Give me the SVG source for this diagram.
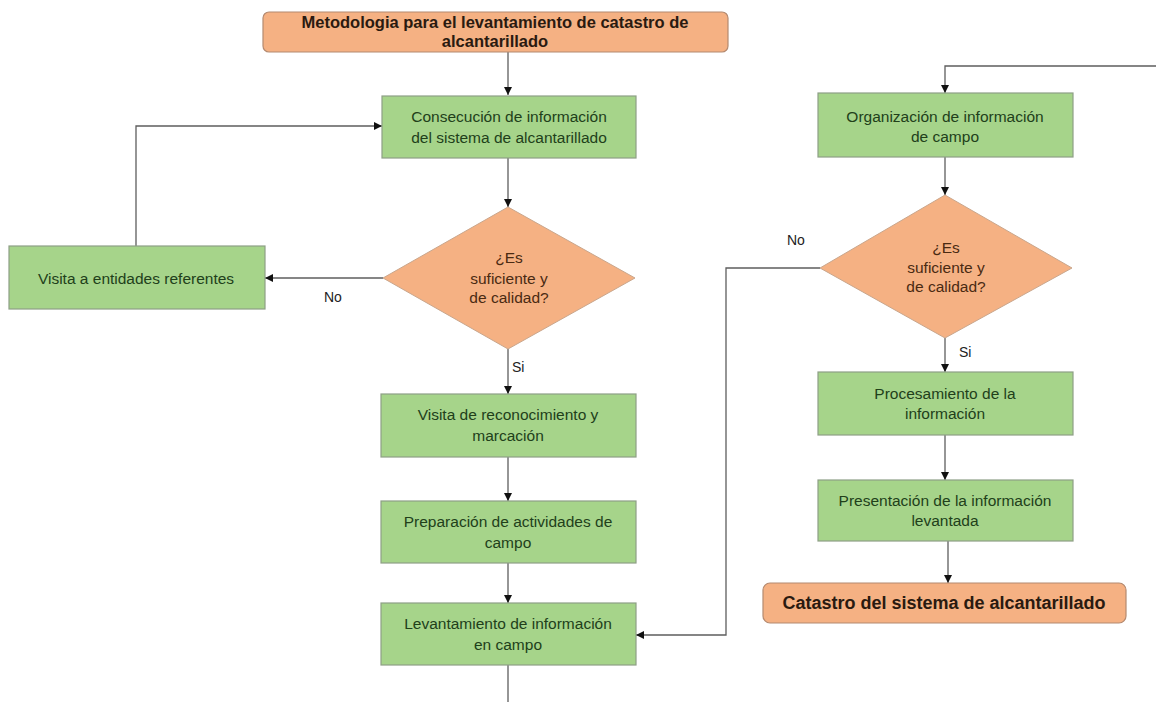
<svg xmlns="http://www.w3.org/2000/svg" width="1156" height="702" viewBox="0 0 1156 702">
<defs>
<marker id="ah" viewBox="0 0 10 10" refX="10" refY="5" markerWidth="8" markerHeight="8" markerUnits="userSpaceOnUse" orient="auto">
<path d="M0,0 L10,5 L0,10 z" fill="#111"/>
</marker>
<style>
.proc{fill:#a6d48a;stroke:#8e9f86;stroke-width:1.2}
.term{fill:#f5b183;stroke:#b48a70;stroke-width:1.2}
.dec{fill:#f5b183;stroke:#c9a68c;stroke-width:1}
.pt{font-family:"Liberation Sans",Arial,sans-serif;font-size:15.5px;fill:#21401a;text-anchor:middle}
.dt{font-family:"Liberation Sans",Arial,sans-serif;font-size:15.5px;fill:#4a2a12;text-anchor:middle}
.tt{font-family:"Liberation Sans",Arial,sans-serif;font-weight:bold;fill:#2a1a10;text-anchor:middle}
.lbl{font-family:"Liberation Sans",Arial,sans-serif;font-size:14px;fill:#222}
.c{fill:none;stroke:#5e5e5e;stroke-width:1.3}
</style>
</defs>
<rect width="1156" height="702" fill="#ffffff"/>

<g id="connectors">
<path class="c" d="M508,52 L508,95" marker-end="url(#ah)"/>
<path class="c" d="M508,158 L508,207" marker-end="url(#ah)"/>
<path class="c" d="M383,278 L265,278" marker-end="url(#ah)"/>
<path class="c" d="M136,246 L136,126 L382,126" marker-end="url(#ah)"/>
<path class="c" d="M508,349 L508,394" marker-end="url(#ah)"/>
<path class="c" d="M508,457 L508,501" marker-end="url(#ah)"/>
<path class="c" d="M508,563 L508,603" marker-end="url(#ah)"/>
<path class="c" d="M508,665 L508,702"/>
<path class="c" d="M1156,66 L945,66 L945,93" marker-end="url(#ah)"/>
<path class="c" d="M945,157 L945,195" marker-end="url(#ah)"/>
<path class="c" d="M820,268 L726,268 L726,635 L636,635" marker-end="url(#ah)"/>
<path class="c" d="M945,338 L945,372" marker-end="url(#ah)"/>
<path class="c" d="M945,435 L945,480" marker-end="url(#ah)"/>
<path class="c" d="M948,541 L948,583" marker-end="url(#ah)"/>
<text class="lbl" x="324" y="302">No</text>
<text class="lbl" x="512" y="372">Si</text>
<text class="lbl" x="787" y="245">No</text>
<text class="lbl" x="959" y="357">Si</text>
</g>

<g id="title">
<rect class="term" x="263" y="12" width="465" height="40" rx="6"/>
<text class="tt" x="495" y="28" font-size="16.5">Metodologia para el levantamiento de catastro de</text>
<text class="tt" x="495" y="47" font-size="16.5">alcantarillado</text>
</g>

<g id="consecucion">
<rect class="proc" x="382" y="96" width="254" height="62"/>
<text class="pt" x="509" y="122">Consecución de información</text>
<text class="pt" x="509" y="143">del sistema de alcantarillado</text>
</g>

<g id="decision1">
<polygon class="dec" points="508,207 635,278 508,349 383,278"/>
<text class="dt" x="509" y="263">¿Es</text>
<text class="dt" x="509" y="284">suficiente y</text>
<text class="dt" x="509" y="303">de calidad?</text>
</g>

<g id="visita-entidades">
<rect class="proc" x="9" y="246" width="256" height="63"/>
<text class="pt" x="136" y="284">Visita a entidades referentes</text>
</g>

<g id="visita-reconocimiento">
<rect class="proc" x="381" y="394" width="255" height="63"/>
<text class="pt" x="508" y="420">Visita de reconocimiento y</text>
<text class="pt" x="508" y="441">marcación</text>
</g>

<g id="preparacion">
<rect class="proc" x="381" y="501" width="255" height="62"/>
<text class="pt" x="508" y="527">Preparación de actividades de</text>
<text class="pt" x="508" y="548">campo</text>
</g>

<g id="levantamiento">
<rect class="proc" x="381" y="603" width="255" height="62"/>
<text class="pt" x="508" y="629">Levantamiento de información</text>
<text class="pt" x="508" y="650">en campo</text>
</g>

<g id="organizacion">
<rect class="proc" x="818" y="93" width="255" height="64"/>
<text class="pt" x="945" y="122">Organización de información</text>
<text class="pt" x="945" y="142">de campo</text>
</g>

<g id="decision2">
<polygon class="dec" points="945,195 1072,268 945,338 820,268"/>
<text class="dt" x="946" y="253">¿Es</text>
<text class="dt" x="946" y="273">suficiente y</text>
<text class="dt" x="946" y="292">de calidad?</text>
</g>

<g id="procesamiento">
<rect class="proc" x="818" y="372" width="255" height="63"/>
<text class="pt" x="945" y="399">Procesamiento de la</text>
<text class="pt" x="945" y="419">información</text>
</g>

<g id="presentacion">
<rect class="proc" x="818" y="480" width="255" height="61"/>
<text class="pt" x="945" y="506">Presentación de la información</text>
<text class="pt" x="945" y="526">levantada</text>
</g>

<g id="catastro">
<rect class="term" x="763" y="583" width="363" height="40" rx="7"/>
<text class="tt" x="944" y="609" font-size="18px">Catastro del sistema de alcantarillado</text>
</g>
</svg>
